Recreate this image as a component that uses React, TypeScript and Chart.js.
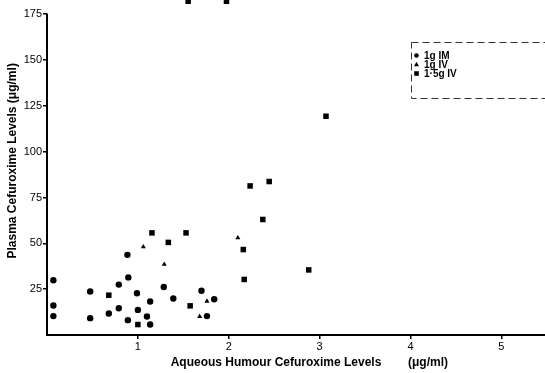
import React, { useEffect, useRef } from 'react';
import { Chart, registerables } from 'chart.js';

Chart.register(...registerables);

// Series labels
const seriesLabels = ['1g IM', '1g IV', '1·5g IV'];

// 1g IM (circles)
const imX = [0.07, 0.07, 0.07, 0.475, 0.475, 0.68, 0.79, 0.79, 0.885, 0.895, 0.89, 0.99, 1.0, 1.1, 1.135, 1.135, 1.285, 1.39, 1.7, 1.76, 1.84];
const imY = [29.9, 16.1, 10.3, 23.7, 9.2, 11.7, 27.5, 14.6, 43.7, 31.4, 8.1, 22.8, 13.7, 10.1, 18.3, 5.7, 26.2, 19.9, 24.1, 10.3, 19.5];

// 1g IV (triangles)
const ivX = [1.06, 1.29, 1.76, 1.68, 2.1];
const ivY = [48.1, 38.5, 18.4, 10.1, 53.0];

// 1.5g IV (squares)
const iv15X = [0.68, 1.0, 1.575, 1.155, 1.53, 1.335, 2.16, 2.17, 2.88, 2.235, 2.445, 2.375, 3.07, 1.553, 1.975];
const iv15Y = [21.7, 5.7, 15.9, 55.7, 55.7, 50.5, 46.6, 30.3, 35.5, 81.3, 83.7, 63.0, 119.3, 182, 182];

// Tick labels
const xTickValues = [1, 2, 3, 4, 5];
const yTickValues = [25, 50, 75, 100, 125, 150, 175];

const xTitle = '        Aqueous Humour Cefuroxime Levels        (μg/ml)';
const yTitle = '    Plasma Cefuroxime Levels (μg/ml)';

const FONT = "'Liberation Sans', Arial, Helvetica, sans-serif";

const toPoints = (xs: number[], ys: number[]) => xs.map((x, i) => ({ x, y: ys[i] }));

// y axis line only runs up to the highest labelled tick
const yAxisLine = {
  id: 'yAxisLine',
  beforeDatasetsDraw(chart: any) {
    const ctx = chart.ctx as CanvasRenderingContext2D;
    const area = chart.chartArea;
    const yScale = chart.scales.y;
    const topTick = yTickValues[yTickValues.length - 1];
    ctx.save();
    ctx.strokeStyle = '#000';
    ctx.lineWidth = 2;
    ctx.beginPath();
    ctx.moveTo(area.left, yScale.getPixelForValue(topTick) - 0.5);
    ctx.lineTo(area.left, area.bottom + 1);
    ctx.stroke();
    ctx.restore();
  },
};

const boxLegend = {
  id: 'boxLegend',
  afterDraw(chart: any) {
    const ctx = chart.ctx as CanvasRenderingContext2D;
    const area = chart.chartArea;
    const left = area.right - 133.5;
    const top = 42.5;
    ctx.save();
    ctx.strokeStyle = '#333';
    ctx.lineWidth = 1;
    ctx.setLineDash([7, 4]);
    ctx.strokeRect(left, top, 200, 56);
    ctx.setLineDash([]);
    ctx.font = `bold 10px ${FONT}`;
    ctx.textBaseline = 'middle';
    ctx.textAlign = 'left';
    ctx.fillStyle = '#000';
    chart.data.datasets.forEach((ds: any, i: number) => {
      const cy = top + 13 + i * 9;
      const cx = left + 5;
      ctx.beginPath();
      if (ds.pointStyle === 'circle') {
        ctx.arc(cx, cy, 2.3, 0, Math.PI * 2);
      } else if (ds.pointStyle === 'triangle') {
        ctx.moveTo(cx, cy - 2.7);
        ctx.lineTo(cx + 2.5, cy + 1.7);
        ctx.lineTo(cx - 2.5, cy + 1.7);
        ctx.closePath();
      } else {
        ctx.rect(cx - 2.3, cy - 2.3, 4.6, 4.6);
      }
      ctx.fill();
      ctx.fillText(ds.label, left + 12.5, cy + 0.5);
    });
    ctx.restore();
  },
};

export default function App() {
  const ref = useRef<HTMLCanvasElement | null>(null);

  useEffect(() => {
    if (!ref.current) return;
    Chart.defaults.font.family = FONT;
    Chart.defaults.color = '#000';
    const chart = new Chart(ref.current, {
      type: 'scatter',
      data: {
        datasets: [
          {
            label: seriesLabels[0],
            data: toPoints(imX, imY),
            pointStyle: 'circle',
            pointRadius: 3.2,
            backgroundColor: '#000',
            borderColor: '#000',
            borderWidth: 0,
            clip: false,
          },
          {
            label: seriesLabels[1],
            data: toPoints(ivX, ivY),
            pointStyle: 'triangle',
            pointRadius: 2.9,
            backgroundColor: '#000',
            borderColor: '#000',
            borderWidth: 0,
            clip: false,
          },
          {
            label: seriesLabels[2],
            data: toPoints(iv15X, iv15Y),
            pointStyle: 'rect',
            pointRadius: 3.9,
            backgroundColor: '#000',
            borderColor: '#000',
            borderWidth: 0,
            clip: false,
          },
        ] as any,
      },
      options: {
        animation: false,
        responsive: false,
        devicePixelRatio: 1,
        layout: { autoPadding: false, padding: { top: 0, right: 0, left: 0, bottom: 0 } },
        plugins: {
          legend: { display: false },
          tooltip: { enabled: false },
        },
        scales: {
          x: {
            type: 'linear',
            min: 0,
            max: 5.48,
            afterBuildTicks: (scale: any) => {
              scale.ticks = xTickValues.map((v) => ({ value: v }));
            },
            afterFit: (scale: any) => {
              scale.height = 38;
              scale.paddingLeft = 0;
              scale.paddingRight = 0;
            },
            grid: { drawOnChartArea: false, drawTicks: true, tickLength: 4, color: '#000', lineWidth: 1.5 },
            border: { display: true, color: '#000', width: 2 },
            ticks: { font: { size: 11 }, padding: 1, color: '#000' },
            title: {
              display: true,
              text: xTitle,
              font: { size: 12, weight: 'bold' },
              color: '#000',
              padding: { top: 0, bottom: 3 },
            },
          },
          y: {
            type: 'linear',
            min: 0,
            max: 182.7,
            afterBuildTicks: (scale: any) => {
              scale.ticks = yTickValues.map((v) => ({ value: v }));
            },
            afterFit: (scale: any) => {
              scale.width = 47;
              scale.paddingTop = 0;
              scale.paddingBottom = 0;
            },
            grid: { drawOnChartArea: false, drawTicks: true, tickLength: 4, color: '#000', lineWidth: 1.5 },
            border: { display: false },
            ticks: { font: { size: 11 }, padding: 1, color: '#000' },
            title: {
              display: true,
              text: yTitle,
              font: { size: 12, weight: 'bold' },
              color: '#000',
              padding: { top: 5, bottom: 0 },
            },
          },
        },
      } as any,
      plugins: [yAxisLine, boxLegend],
    });
    return () => chart.destroy();
  }, []);

  return (
    <div style={{ position: 'absolute', left: 0, top: 0, width: 545, height: 373, background: '#fff' }}>
      <canvas ref={ref} width={545} height={373} style={{ display: 'block' }} />
    </div>
  );
}
